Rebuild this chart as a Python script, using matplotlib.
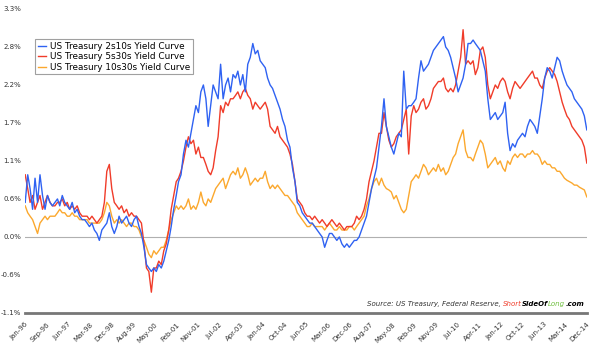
import matplotlib
matplotlib.use('Agg')
import matplotlib.pyplot as plt
import numpy as np
import pandas as pd

# monthly readings, Jan-1996 .. Dec-2014 (percentage points)
months = pd.date_range('1996-01-01', '2014-12-01', freq='MS')

curve_2s10s = [
    0.50, 0.90, 0.70, 0.40, 0.85, 0.50, 0.90, 0.60, 0.40, 0.60, 0.50, 0.45,
    0.50, 0.55, 0.45, 0.60, 0.50, 0.45, 0.40, 0.50, 0.35, 0.40, 0.30, 0.25,
    0.25, 0.20, 0.15, 0.20, 0.10, 0.05, -0.05, 0.10, 0.15, 0.20, 0.35, 0.15,
    0.05, 0.15, 0.30, 0.20, 0.25, 0.30, 0.20, 0.15, 0.25, 0.30, 0.15, 0.05,
    -0.15, -0.40, -0.45, -0.50, -0.45, -0.50, -0.40, -0.45, -0.35, -0.20, -0.05, 0.15,
    0.40, 0.60, 0.80, 0.90, 1.20, 1.40, 1.30, 1.50, 1.70, 1.90, 1.80, 2.10,
    2.20, 2.00, 1.60, 1.90, 2.20, 2.10, 2.00, 2.50, 2.00, 2.20, 2.30, 2.10,
    2.35, 2.30, 2.40, 2.20, 2.35, 2.10, 2.50, 2.60, 2.80, 2.65, 2.70, 2.55,
    2.50, 2.45, 2.30, 2.20, 2.15, 2.05, 1.95, 1.85, 1.70, 1.60, 1.40, 1.30,
    1.00, 0.80, 0.50, 0.45, 0.35, 0.30, 0.25, 0.20, 0.20, 0.15, 0.10, 0.05,
    0.00, -0.15, -0.05, 0.05, 0.05, 0.00, -0.05, 0.00, -0.10, -0.15, -0.10, -0.15,
    -0.10, -0.05, -0.05, 0.00, 0.10, 0.20, 0.30, 0.50, 0.70, 0.85, 1.00, 1.30,
    1.60, 2.00, 1.60, 1.45, 1.30, 1.20, 1.35, 1.50, 1.45, 2.40, 1.85, 1.90,
    1.90, 1.95, 2.00, 2.30, 2.55, 2.40, 2.45, 2.50, 2.60, 2.70, 2.75, 2.80,
    2.85, 2.90, 2.75, 2.70, 2.60, 2.45, 2.30, 2.10, 2.20, 2.30, 2.50, 2.80,
    2.80, 2.85, 2.80, 2.75, 2.70, 2.55, 2.40, 2.00, 1.70, 1.75, 1.80, 1.70,
    1.75, 1.80, 1.95, 1.50, 1.25, 1.35, 1.30, 1.40, 1.45, 1.50, 1.45, 1.60,
    1.70, 1.65, 1.60, 1.50, 1.75, 2.00, 2.30, 2.45, 2.40, 2.30, 2.45, 2.60,
    2.55, 2.40, 2.30, 2.20, 2.15, 2.10, 2.00, 1.95, 1.90, 1.85, 1.75, 1.55,
]

curve_5s30s = [
    0.90, 0.70, 0.50, 0.60, 0.40, 0.50, 0.60, 0.40, 0.50, 0.60, 0.50, 0.45,
    0.45, 0.50, 0.50, 0.55, 0.45, 0.50, 0.40, 0.45, 0.40, 0.45, 0.35, 0.30,
    0.30, 0.30, 0.25, 0.30, 0.25, 0.20, 0.25, 0.30, 0.50, 0.95, 1.05, 0.70,
    0.50, 0.45, 0.40, 0.45, 0.35, 0.40, 0.30, 0.35, 0.30, 0.30, 0.25, 0.20,
    -0.10, -0.45, -0.50, -0.80, -0.45, -0.45, -0.35, -0.40, -0.20, -0.10, 0.10, 0.40,
    0.60, 0.80, 0.85, 0.95, 1.10, 1.30, 1.45, 1.35, 1.40, 1.20, 1.30, 1.15,
    1.15, 1.05, 0.95, 0.90, 1.00, 1.25, 1.45, 1.90, 1.80, 1.95, 1.90, 2.00,
    2.00, 2.05, 2.10, 2.00, 2.10, 2.15, 2.05, 2.00, 1.85, 1.95, 1.90, 1.85,
    1.90, 1.95, 1.85, 1.60, 1.55, 1.50, 1.60, 1.45, 1.40, 1.35, 1.30, 1.20,
    1.05, 0.80, 0.55, 0.50, 0.45, 0.35, 0.30, 0.30, 0.25, 0.30, 0.25, 0.20,
    0.25, 0.20, 0.15, 0.20, 0.25, 0.20, 0.15, 0.20, 0.15, 0.10, 0.15, 0.15,
    0.15, 0.20, 0.30, 0.25, 0.30, 0.40, 0.55, 0.80, 0.95, 1.10, 1.30, 1.50,
    1.50, 1.80, 1.60, 1.40, 1.30, 1.35, 1.45, 1.50, 1.55, 1.70, 1.85, 1.20,
    1.75, 1.90, 1.80, 1.85, 1.95, 2.00, 1.85, 1.90, 2.00, 2.15, 2.20, 2.25,
    2.25, 2.30, 2.15, 2.10, 2.15, 2.10, 2.20, 2.40, 2.60, 3.00, 2.50, 2.55,
    2.50, 2.55, 2.35, 2.45, 2.70, 2.75, 2.60, 2.20, 2.00, 2.10, 2.20, 2.15,
    2.25, 2.30, 2.25, 2.10, 2.00, 2.15, 2.25, 2.20, 2.15, 2.20, 2.25, 2.30,
    2.35, 2.40, 2.30, 2.30, 2.20, 2.15, 2.30, 2.40, 2.45, 2.40, 2.35, 2.25,
    2.10, 1.95, 1.85, 1.75, 1.70, 1.60, 1.55, 1.50, 1.45, 1.40, 1.30, 1.07,
]

curve_10s30s = [
    0.45, 0.35, 0.30, 0.25, 0.15, 0.05, 0.20, 0.25, 0.30, 0.25, 0.30, 0.30,
    0.30, 0.35, 0.40, 0.35, 0.35, 0.30, 0.30, 0.35, 0.30, 0.30, 0.25, 0.25,
    0.25, 0.25, 0.20, 0.20, 0.20, 0.20, 0.20, 0.25, 0.35, 0.50, 0.45, 0.30,
    0.20, 0.25, 0.20, 0.25, 0.20, 0.15, 0.20, 0.20, 0.15, 0.15, 0.10, 0.00,
    -0.05, -0.15, -0.25, -0.30, -0.20, -0.25, -0.20, -0.15, -0.15, -0.05, 0.10, 0.25,
    0.35, 0.45, 0.40, 0.45, 0.40, 0.45, 0.55, 0.40, 0.45, 0.40, 0.50, 0.65,
    0.50, 0.45, 0.55, 0.50, 0.60, 0.70, 0.75, 0.80, 0.85, 0.70, 0.80, 0.90,
    0.95, 0.90, 1.00, 0.85, 0.90, 1.00, 0.90, 0.75, 0.80, 0.85, 0.80, 0.85,
    0.85, 0.95, 0.80, 0.70, 0.75, 0.70, 0.75, 0.70, 0.65, 0.60, 0.60, 0.55,
    0.50, 0.45, 0.35, 0.30, 0.25, 0.20, 0.15, 0.15, 0.20, 0.15, 0.15, 0.15,
    0.15, 0.10, 0.15, 0.20, 0.15, 0.10, 0.10, 0.15, 0.10, 0.10, 0.10, 0.15,
    0.15, 0.10, 0.15, 0.20, 0.25, 0.30, 0.45, 0.55, 0.70, 0.80, 0.85, 0.75,
    0.85, 0.75, 0.70, 0.68, 0.65, 0.55, 0.60, 0.50, 0.40, 0.35, 0.40, 0.60,
    0.80, 0.85, 0.90, 0.85, 0.95, 1.05, 1.00, 0.90, 0.95, 1.00, 0.95, 1.05,
    0.95, 1.00, 0.90, 0.95, 1.05, 1.15, 1.20, 1.35, 1.45, 1.55, 1.25, 1.15,
    1.15, 1.10, 1.20, 1.30, 1.40, 1.35, 1.20, 1.00, 1.05, 1.10, 1.15, 1.05,
    1.10, 1.00, 0.95, 1.10, 1.05, 1.15, 1.20, 1.15, 1.20, 1.20, 1.15, 1.20,
    1.20, 1.25, 1.20, 1.20, 1.15, 1.05, 1.10, 1.05, 1.05, 1.00, 1.00, 0.95,
    0.95, 0.90, 0.85, 0.82, 0.80, 0.78, 0.75, 0.75, 0.72, 0.70, 0.68, 0.58,
]

ytick_vals = [-1.1, -0.55, 0.0, 0.55, 1.1, 1.65, 2.2, 2.75, 3.3]
ytick_labels = ['-1.1%', '-0.6%', '0.0%', '0.6%', '1.1%', '1.7%', '2.2%', '2.8%', '3.3%']
xtick_labels = ['Jan-96', 'Sep-96', 'Jun-97', 'Mar-98', 'Dec-98', 'Aug-99', 'May-00',
                'Feb-01', 'Nov-01', 'Jul-02', 'Apr-03', 'Jan-04', 'Oct-04', 'Jun-05',
                'Mar-06', 'Dec-06', 'Aug-07', 'May-08', 'Feb-09', 'Nov-09', 'Jul-10',
                'Apr-11', 'Jan-12', 'Oct-12', 'Jun-13', 'Mar-14', 'Dec-14']

fig = plt.figure(figsize=(6, 3.45), dpi=100)
ax = fig.add_axes([0.042, 0.093, 0.936, 0.881])

ax.plot(months, curve_2s10s, color='#2f62f2', lw=1.0, label='US Treasury 2s10s Yield Curve', zorder=3)
ax.plot(months, curve_5s30s, color='#f03c2a', lw=1.0, label='US Treasury 5s30s Yield Curve', zorder=2)
ax.plot(months, curve_10s30s, color='#fba82e', lw=1.0, label='US Treasury 10s30s Yield Curve', zorder=1)

ax.axhline(0, color='#b0b0b0', lw=0.8, zorder=0)

ax.set_xlim(months[0], months[-1])
ax.set_ylim(-1.1, 3.3)
ax.set_yticks(ytick_vals)
ax.set_yticklabels(ytick_labels, fontsize=5, color='#333333')

xt = np.linspace(matplotlib.dates.date2num(months[0]), matplotlib.dates.date2num(months[-1]), len(xtick_labels))
ax.set_xticks(xt)
ax.set_xticklabels(xtick_labels, fontsize=5, color='#333333', rotation=45, ha='right', rotation_mode='anchor')
ax.tick_params(axis='both', length=0)
ax.tick_params(axis='x', pad=6)
ax.tick_params(axis='y', pad=3)

for s in ['top', 'right', 'left']:
    ax.spines[s].set_visible(False)
ax.spines['bottom'].set_color('#777777')
ax.spines['bottom'].set_linewidth(2)

leg = ax.legend(loc='upper left', bbox_to_anchor=(0.018, 0.9), fontsize=6.4, frameon=True,
                fancybox=False, handlelength=0.9, handletextpad=0.5, borderpad=0.3,
                labelspacing=0.15, borderaxespad=0)
leg.get_frame().set_edgecolor('#888888')
leg.get_frame().set_linewidth(0.8)

# source line, built right to left
pieces = [('.com', 'black', 'bold'), ('Long', '#6dbf3c', 'normal'), ('SideOf', 'black', 'bold'),
          ('Short', '#f03c2a', 'normal'),
          ('Source: US Treasury, Federal Reserve, ', '#333333', 'normal')]
prev = ax.text(0.995, 0.02, pieces[0][0], transform=ax.transAxes, ha='right', va='bottom',
               fontsize=5, style='italic', color=pieces[0][1], fontweight=pieces[0][2])
for txt, col, wt in pieces[1:]:
    prev = ax.annotate(txt, xy=(0, 0), xycoords=prev, ha='right', va='bottom',
                       fontsize=5, style='italic', color=col, fontweight=wt)

plt.savefig('out.png', dpi=100)
